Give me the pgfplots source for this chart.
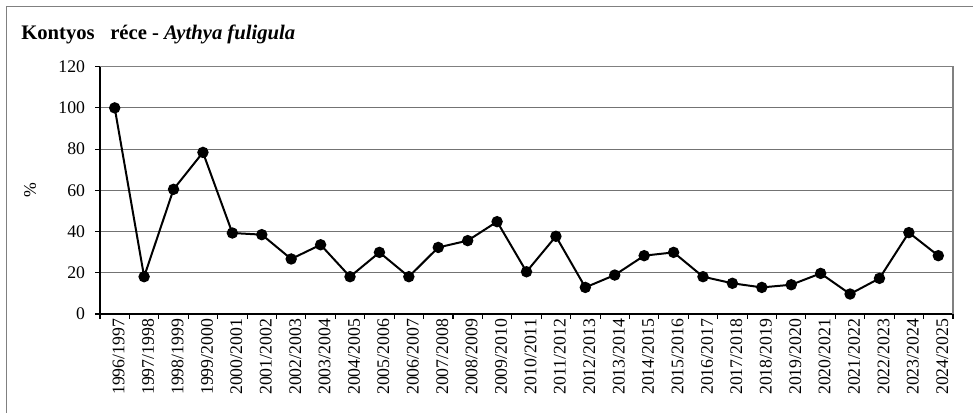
\documentclass[border=0pt]{standalone}
\usepackage{pgfplots}
\pgfplotsset{compat=1.18}
\usepackage{fontspec}
\setmainfont{Liberation Serif}
\begin{document}
\begin{tikzpicture}[x=1pt,y=1pt]
\useasboundingbox (0,0) rectangle (729.75,309);
\draw[black!50, line width=0.8pt] (4.9,-1) -- (4.9,304.1) -- (731,304.1);
\node[anchor=west, inner sep=0pt, font=\fontsize{15.5}{18}\selectfont\bfseries] at (15.75,283.5) {Kontyos\ \ \ réce - \textit{Aythya fuligula}};
\begin{axis}[
  at={(75pt,73.5pt)}, anchor=south west,
  scale only axis, width=639.75pt, height=185.5pt,
  xmin=-0.5, xmax=28.5, ymin=0, ymax=120,
  ytick={0,20,...,120},
  xtick={-0.5,0.5,...,28.5},
  x tick label as interval=true,
  xticklabels={1996/1997,1997/1998,1998/1999,1999/2000,2000/2001,2001/2002,2002/2003,2003/2004,2004/2005,2005/2006,2006/2007,2007/2008,2008/2009,2009/2010,2010/2011,2011/2012,2012/2013,2013/2014,2014/2015,2015/2016,2016/2017,2017/2018,2018/2019,2019/2020,2020/2021,2021/2022,2022/2023,2023/2024,2024/2025},
  axis lines*=left,
  axis line style={black, line width=0.8pt},
  tick align=outside,
  major tick length=3.5pt,
  tick style={black, line width=0.8pt},
  ymajorgrids,
  grid style={black!55, line width=0.8pt},
  /pgf/number format/assume math mode=true,
  tick label style={font=\fontsize{13.3}{15}\selectfont},
  x tick label style={rotate=90, anchor=east, inner sep=0pt, yshift=-3pt},
  y tick label style={anchor=east, inner sep=0pt, xshift=-7.5pt},
  ylabel={\%},
  every axis y label/.style={at={(rel axis cs:0,0.5)}, xshift=-52.5pt, rotate=90, font=\fontsize{13.3}{15}\selectfont},
  clip=false,
]
\draw[black!50, line width=0.8pt] (rel axis cs:0,1) -- (rel axis cs:1,1) -- (rel axis cs:1,0);
\addplot[black, line width=1.5pt, mark=*, mark size=3.5pt, mark options={solid, fill=black}] coordinates {
(0,100) (1,18.1) (2,60.5) (3,78.4) (4,39.3) (5,38.5) (6,26.7) (7,33.6) (8,18.1) (9,29.9)
(10,18.1) (11,32.3) (12,35.6) (13,44.8) (14,20.5) (15,37.7) (16,12.9) (17,18.9) (18,28.3) (19,29.9)
(20,18.1) (21,14.9) (22,12.9) (23,14.2) (24,19.7) (25,9.7) (26,17.3) (27,39.5) (28,28.3)
};
\end{axis}
\end{tikzpicture}
\end{document}
